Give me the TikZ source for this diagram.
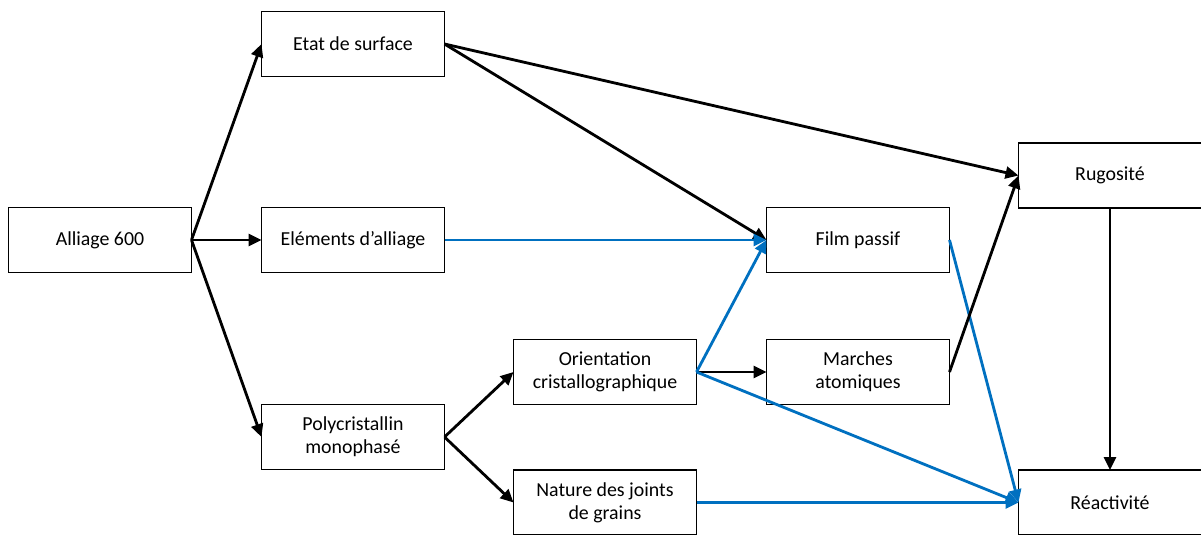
\documentclass[tikz,border=0pt]{standalone}
\usepackage{fontspec}
\setmainfont{Carlito}
\usepackage{tikz}
\usetikzlibrary{arrows.meta, positioning, calc}
\definecolor{lienbleu}{RGB}{0,112,192}
\tikzset{
	every text node part/.style = {align=center},
	boite/.style = {draw, line width=0.8pt, minimum width=3.66cm, minimum height=1.3cm,
		inner sep=0pt, outer sep=0pt, font=\fontsize{11.3}{13}\selectfont},
	lien/.style = {line width=1.6pt, -{Triangle[length=2.6mm, width=2.4mm]}},
	lienB/.style = {lien, color=lienbleu}
}
\begin{document}
\begin{tikzpicture}
	\useasboundingbox (0,0) rectangle (24.02,-10.68);
	\clip (0,0) rectangle (24.02,-10.68);
	
	\node [boite] (alliage) at (2.0,-4.8) {Alliage 600};
	\node [boite] (etat) at (7.06,-0.88) {Etat de surface};
	\node [boite] (elements) at (7.06,-4.8) {Eléments d’alliage};
	\node [boite] (poly) at (7.06,-8.74) {Polycristallin\\monophasé};
	\node [boite] (orient) at (12.1,-7.44) {Orientation\\cristallographique};
	\node [boite] (joints) at (12.1,-10.05) {Nature des joints\\de grains};
	\node [boite] (film) at (17.16,-4.8) {Film passif};
	\node [boite] (marches) at (17.16,-7.44) {Marches\\atomiques};
	\node [boite] (rugo) at (22.2,-3.51) {Rugosité};
	\node [boite] (reac) at (22.2,-10.05) {Réactivité};
	
	\draw [lien] (alliage.east) -- (etat.west);
	\draw [lien] (alliage.east) -- (elements.west);
	\draw [lien] (alliage.east) -- (poly.west);
	\draw [lien] (etat.east) -- (film.west);
	\draw [lien] (etat.east) -- (rugo.west);
	\draw [lienB] (elements.east) -- (film.west);
	\draw [lien] (poly.east) -- (orient.west);
	\draw [lien] (poly.east) -- (joints.west);
	\draw [lienB] (orient.east) -- (film.west);
	\draw [lien] (orient.east) -- (marches.west);
	\draw [lienB] (orient.east) -- (reac.west);
	\draw [lienB] (joints.east) -- (reac.west);
	\draw [lienB] (film.east) -- (reac.west);
	\draw [lien] (marches.east) -- (rugo.west);
	\draw [lien] (rugo.south) -- (reac.north);
	
\end{tikzpicture}
\end{document}
